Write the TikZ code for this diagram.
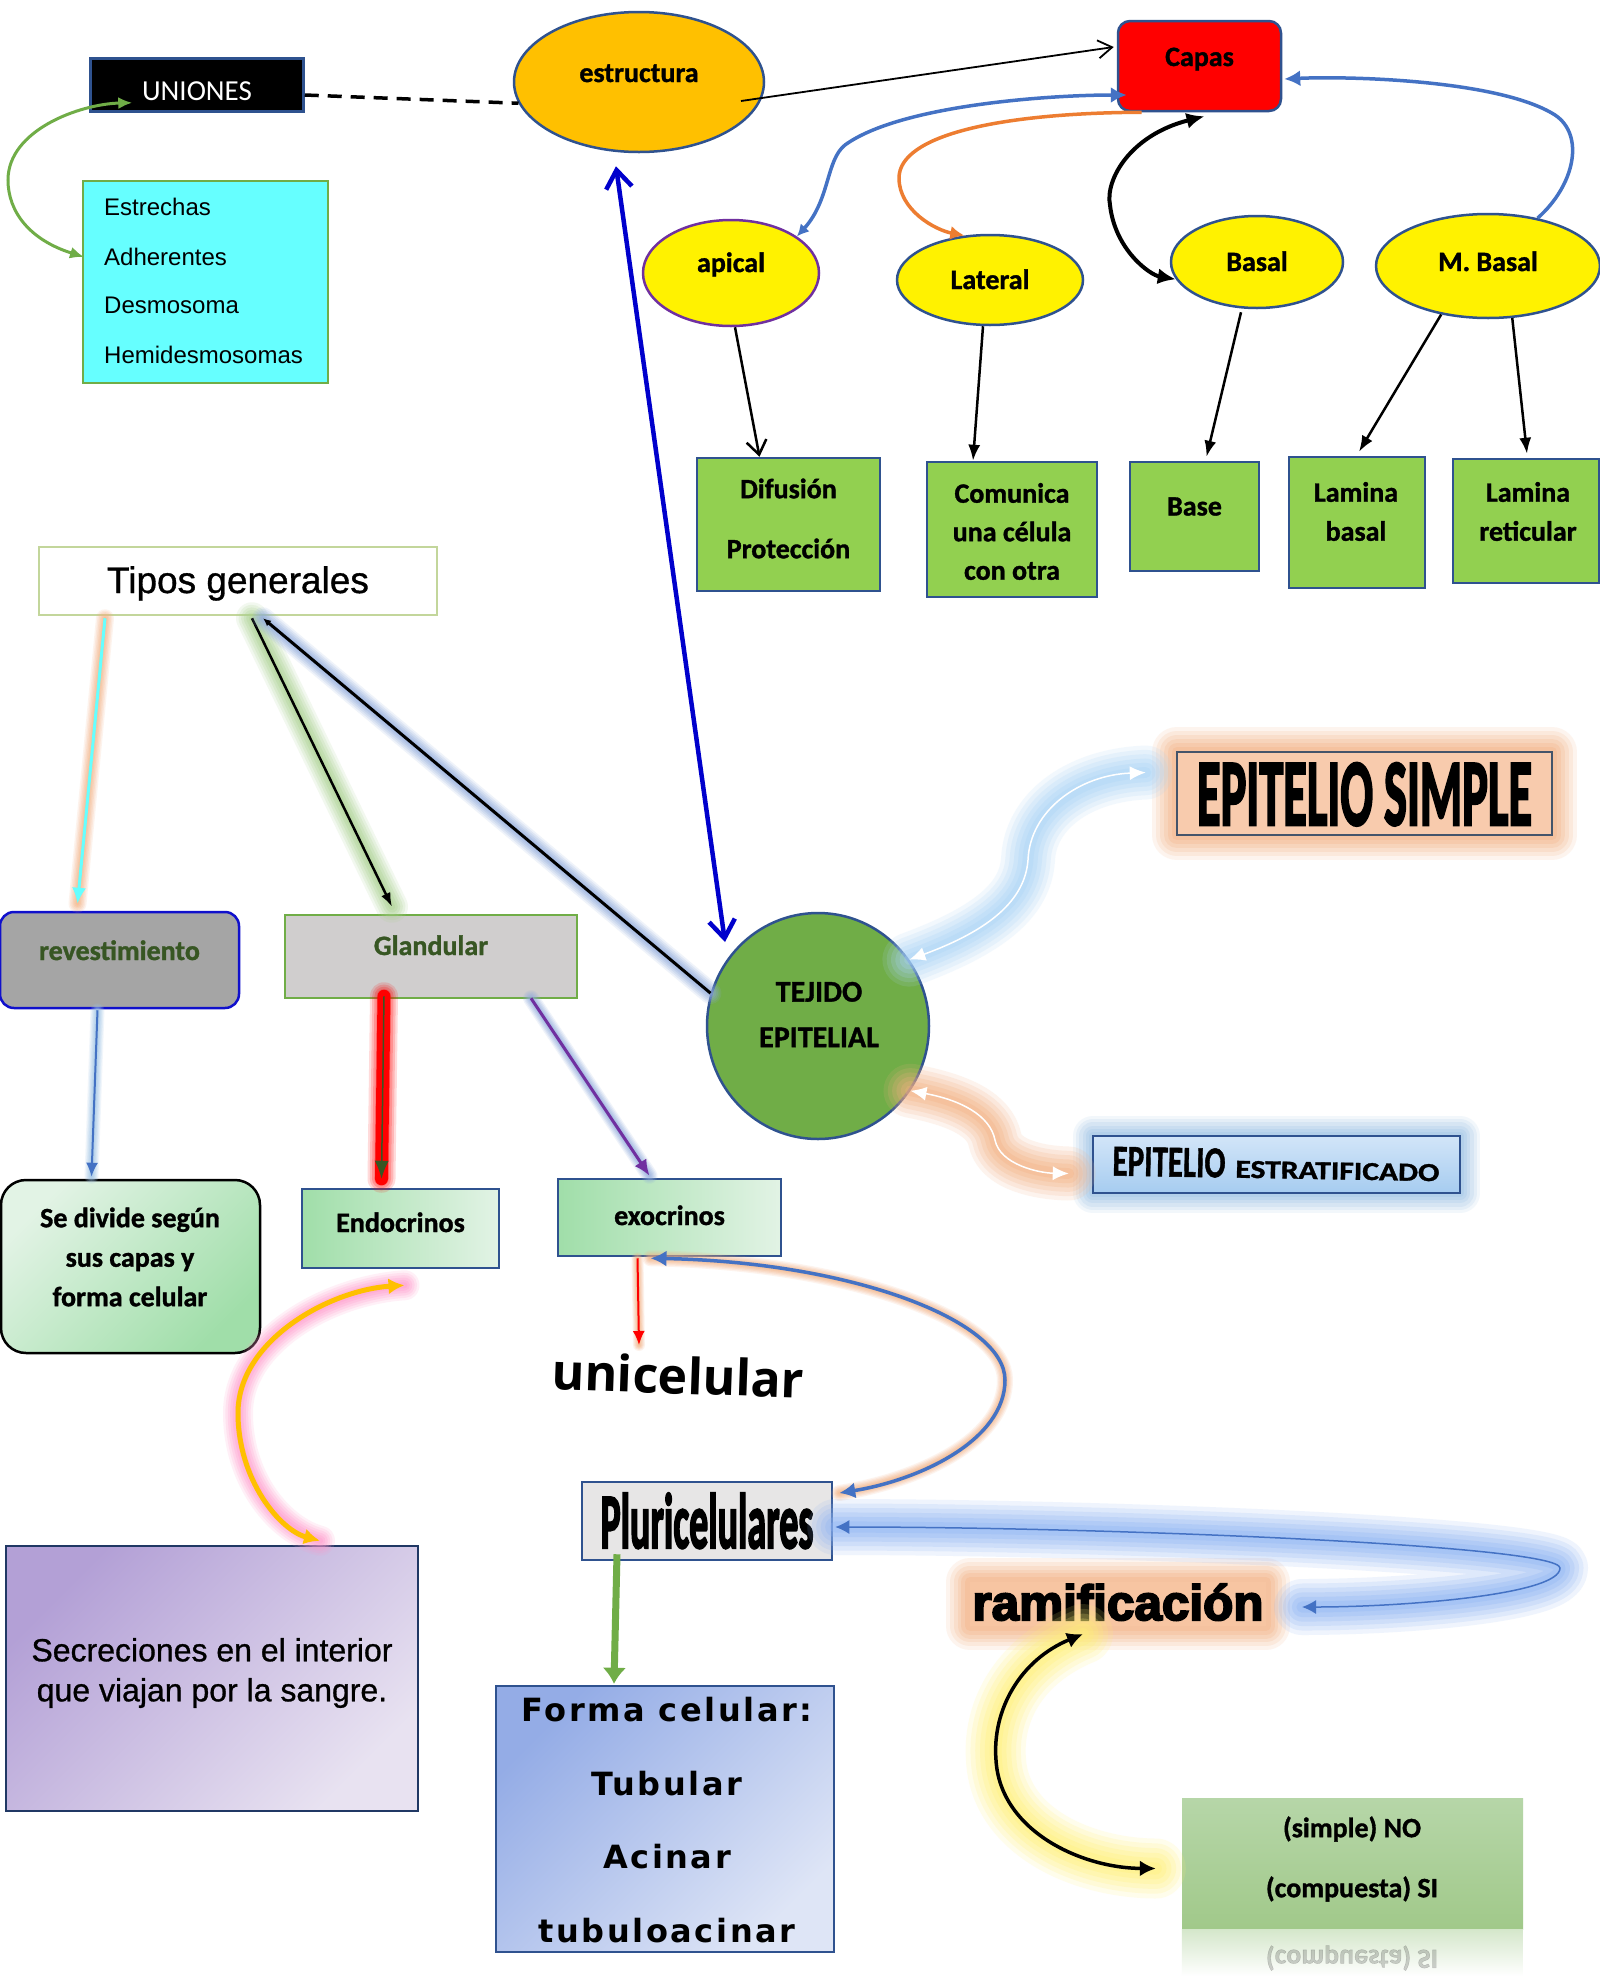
\documentclass[tikz,border=0pt]{standalone}
\usepackage{fontspec}
\usepackage{graphicx}
\usetikzlibrary{arrows.meta,shapes.geometric}
\newfontfamily\calfont{Carlito}[BoldFeatures={FakeBold=1.2}]
\newfontfamily\condfont{Carlito}[BoldFeatures={FakeBold=3}]
\newfontfamily\arialfont{Liberation Sans}
\newfontfamily\arialheavy{Liberation Sans}[FakeBold=0.9]
\newfontfamily\heavyfont{Liberation Sans}[BoldFeatures={FakeBold=4}]
\newfontfamily\verdfont{DejaVu Sans}[LetterSpace=8]
\newfontfamily\opfont{Open Sans}
\definecolor{bordb}{HTML}{2F528F}
\definecolor{cyanb}{HTML}{66FFFF}
\definecolor{grnb}{HTML}{70AD47}
\definecolor{orng}{HTML}{FFC000}
\definecolor{lgreen}{HTML}{92D050}
\definecolor{dkgreen}{HTML}{375623}
\definecolor{accblue}{HTML}{4472C4}
\definecolor{peach}{HTML}{F8CBAD}
\definecolor{orglow}{HTML}{F4B183}
\definecolor{ltblue}{HTML}{9DC3E6}
\definecolor{pblue}{HTML}{0000CC}
\definecolor{purp}{HTML}{7030A0}
\definecolor{orline}{HTML}{ED7D31}
\definecolor{greyfill}{HTML}{A5A5A5}
\definecolor{lgrey}{HTML}{D0CECE}
\definecolor{plgrey}{HTML}{E7E6E6}
\definecolor{tipbord}{HTML}{C3D69B}
\definecolor{gglow}{HTML}{A9D18E}
\definecolor{glblue}{HTML}{8FAADC}
\definecolor{bglow}{HTML}{8EB4F4}
\definecolor{esglow}{HTML}{A9D3F7}
\definecolor{pinkglow}{HTML}{FF99CC}
\definecolor{yglow}{HTML}{FFF176}
\definecolor{mint}{HTML}{A0DEA9}
\definecolor{mintl}{HTML}{E2F3E5}
\definecolor{lav}{HTML}{B3A0D6}
\definecolor{lavl}{HTML}{E8E2F1}
\definecolor{secbord}{HTML}{203864}
\definecolor{fbl}{HTML}{94ACE6}
\definecolor{fbll}{HTML}{DEE5F6}
\definecolor{sgt}{HTML}{B6D6A8}
\definecolor{sgb}{HTML}{A1C98A}
\definecolor{esbord}{HTML}{44546A}
\definecolor{estt}{HTML}{D2E5F8}
\definecolor{estb}{HTML}{A6CCF0}
\definecolor{revbord}{HTML}{1010CC}
\tikzset{
  gl/.style={line cap=round,line join=round,arrows=-},
  glow/.style 2 args={
    preaction={draw=#1,line width=#2,draw opacity=.14,gl},
    preaction={draw=#1,line width=.84*#2,draw opacity=.17,gl},
    preaction={draw=#1,line width=.68*#2,draw opacity=.2,gl},
    preaction={draw=#1,line width=.52*#2,draw opacity=.23,gl},
    preaction={draw=#1,line width=.36*#2,draw opacity=.27,gl},
    preaction={draw=#1,line width=.2*#2,draw opacity=.3,gl}},
  nglow/.style 2 args={
    preaction={draw=#1,line width=#2,draw opacity=.13,line join=round},
    preaction={draw=#1,line width=.84*#2,draw opacity=.16,line join=round},
    preaction={draw=#1,line width=.68*#2,draw opacity=.19,line join=round},
    preaction={draw=#1,line width=.52*#2,draw opacity=.22,line join=round},
    preaction={draw=#1,line width=.36*#2,draw opacity=.26,line join=round},
    preaction={draw=#1,line width=.2*#2,draw opacity=.3,line join=round}},
  cbf/.style={font=\calfont\bfseries\fontsize{28}{34}\selectfont},
  ell/.style={ellipse,draw=bordb,line width=2.5pt,fill=yellow,inner sep=0pt,cbf},
  gbox/.style={draw=bordb,line width=2.5pt,fill=lgreen,inner sep=0pt},
  txt/.style={inner sep=0pt,align=center},
  lst/.style={anchor=base west,inner sep=0pt,font=\arialfont\fontsize{24}{28}\selectfont},
}
\begin{document}
\begin{tikzpicture}[x=1pt,y=-1pt]
\useasboundingbox (0,0) rectangle (1599,1976);
\fill[white] (0,0) rectangle (1599,1976);

% ---------- top part ----------
\node[draw=bordb,line width=2.5pt,fill=black,minimum width=213pt,minimum height=53pt,inner sep=0pt,text=white,font=\calfont\fontsize{29}{34}\selectfont,text height=30pt,text depth=0pt] (uni) at (197,85) {UNIONES};
\node[draw=grnb,line width=2.5pt,fill=cyanb,minimum width=245pt,minimum height=202pt,inner sep=0pt] (unibox) at (205.5,282) {};
\node[lst] (l1) at (104,215) {Estrechas};
\node[lst] (l2) at (104,265) {Adherentes};
\node[lst] (l3) at (104,313) {Desmosoma};
\node[lst] (l4) at (104,363) {Hemidesmosomas};

\node[ellipse,draw=bordb,line width=2.5pt,fill=orng,minimum width=250pt,minimum height=140pt,inner sep=0pt,cbf,text height=20pt,text depth=20pt] (estr) at (639,82) {estructura};
\node[draw=bordb,line width=2.5pt,fill=red,rounded corners=12pt,minimum width=163pt,minimum height=90pt,inner sep=0pt,cbf,text height=20pt,text depth=20pt] (capas) at (1199.5,66) {Capas};

\node[ell,draw=purp,minimum width=176pt,minimum height=106pt,text height=20pt,text depth=22pt] (apical) at (731,273) {apical};
\node[ell,minimum width=186pt,minimum height=90pt,text height=28pt,text depth=10pt] (lateral) at (990,280) {Lateral};
\node[ell,minimum width=172pt,minimum height=92pt,text height=28pt,text depth=10pt] (basal) at (1257,262) {Basal};
\node[ell,minimum width=224pt,minimum height=104pt,text height=24pt,text depth=14pt] (mbasal) at (1488,266) {M. Basal};

\node[gbox,minimum width=183pt,minimum height=133pt] (difu) at (788.5,524.5) {};
\node[txt,font=\calfont\bfseries\fontsize{28}{60}\selectfont] (difut) at (788.5,518.5) {Difusión\\Protección};
\node[gbox,minimum width=170pt,minimum height=135pt] (com) at (1012,529.5) {};
\node[txt,font=\calfont\bfseries\fontsize{28}{38.5}\selectfont] (comt) at (1012,531.5) {Comunica\\una célula\\con otra};
\node[gbox,minimum width=129pt,minimum height=109pt,cbf,text height=20pt,text depth=22pt] (base) at (1194.5,516.5) {Base};
\node[gbox,minimum width=136pt,minimum height=131pt] (lb) at (1357,522.5) {};
\node[txt,font=\calfont\bfseries\fontsize{28}{39}\selectfont] (lbt) at (1356,511.5) {Lamina\\basal};
\node[gbox,minimum width=146pt,minimum height=124pt] (lr) at (1526,521) {};
\node[txt,font=\calfont\bfseries\fontsize{28}{39}\selectfont] (lrt) at (1528,511.5) {Lamina\\reticular};

% ---------- middle ----------
\node[draw=tipbord,line width=2.5pt,fill=white,minimum width=398pt,minimum height=68pt,inner sep=0pt,font=\arialheavy\fontsize{37}{44}\selectfont,text height=30pt,text depth=6pt] (tipos) at (238,581) {Tipos generales};
\node[draw=revbord,line width=2.5pt,fill=greyfill,rounded corners=14pt,minimum width=239pt,minimum height=96pt,inner sep=0pt,cbf,text=dkgreen,text height=20pt,text depth=20pt] (rev) at (119.5,960) {revestimiento};
\node[draw=grnb,line width=2.5pt,fill=lgrey,minimum width=292pt,minimum height=83pt,inner sep=0pt,cbf,text=dkgreen,text height=20pt,text depth=23pt] (gland) at (431,956.5) {Glandular};
\node[ellipse,draw=bordb,line width=2.5pt,fill=grnb,minimum width=222pt,minimum height=226pt,inner sep=0pt] (teji) at (818,1026) {};
\node[txt,font=\calfont\bfseries\fontsize{30}{45.5}\selectfont] (tejit) at (819,1014.5) {TEJIDO\\EPITELIAL};

\node[nglow={orglow}{50pt},draw=esbord,line width=2.5pt,fill=peach,minimum width=375pt,minimum height=83pt,inner sep=0pt,text height=63pt,text depth=0pt] (es) at (1364.5,793.5) {\resizebox{335pt}{62pt}{\condfont\bfseries EPITELIO SIMPLE}};
\node[nglow={ltblue}{40pt},draw=bordb,line width=2.5pt,top color=estt,bottom color=estb,minimum width=367pt,minimum height=57pt,inner sep=0pt] (est) at (1276.5,1164.5) {};
\node[inner sep=0pt,rotate=-1] (estt) at (1276,1164) {\resizebox{113pt}{29pt}{\calfont\bfseries EPITELIO}\hspace{10pt}\resizebox{204pt}{17pt}{\calfont\bfseries ESTRATIFICADO}};

% ---------- lower part ----------
\node[draw=black,line width=2.5pt,rounded corners=25pt,top color=mintl,bottom color=mint,shading angle=45,minimum width=259pt,minimum height=173pt,inner sep=0pt] (sediv) at (130.5,1266.5) {};
\node[txt,font=\calfont\bfseries\fontsize{28}{39.5}\selectfont] (sedivt) at (130,1257) {Se divide según\\sus capas y\\forma celular};
\node[draw=bordb,line width=2.5pt,left color=mint,right color=mintl,minimum width=197pt,minimum height=79pt,inner sep=0pt,cbf,text height=26pt,text depth=19pt] (endo) at (400.5,1228.5) {Endocrinos};
\node[draw=bordb,line width=2.5pt,left color=mint,right color=mintl,minimum width=223pt,minimum height=77pt,inner sep=0pt,cbf,text height=27pt,text depth=12pt] (exo) at (669.5,1217.5) {exocrinos};
\node[inner sep=0pt,rotate=-2,font=\opfont\bfseries\fontsize{50}{60}\selectfont] (unic) at (678,1375) {unicelular};
\node[draw=bordb,line width=2.5pt,fill=plgrey,minimum width=250pt,minimum height=78pt,inner sep=0pt,text height=55pt,text depth=1pt] (pluri) at (707,1521) {\resizebox{213pt}{55pt}{\condfont\bfseries Pluricelulares}};

\node[draw=secbord,line width=2.5pt,top color=lav,bottom color=lavl,shading angle=45,minimum width=412pt,minimum height=265pt,inner sep=0pt] (sec) at (212,1678.5) {};
\node[txt,font=\arialheavy\fontsize{32}{40}\selectfont] (sect) at (212,1673) {Secreciones en el interior\\que viajan por la sangre.};

\node[draw=bordb,line width=2.5pt,top color=fbl,bottom color=fbll,shading angle=45,minimum width=338pt,minimum height=266pt,inner sep=0pt] (forma) at (665,1819) {};
\node[txt,font=\verdfont\bfseries\fontsize{32}{73.7}\selectfont] (format) at (667,1820) {Forma celular:\\Tubular\\Acinar\\tubuloacinar};

\node[nglow={orglow}{48pt},fill=orglow!75!white,minimum width=296pt,minimum height=44pt,inner sep=0pt,text height=34pt,text depth=2pt] (ram) at (1118,1604) {\resizebox{291pt}{!}{\heavyfont\bfseries ramificación}};

\node[top color=sgt,bottom color=sgb,minimum width=341pt,minimum height=131pt,inner sep=0pt] (simple) at (1352.5,1863.5) {};
\fill[top color=sgb!45!white,bottom color=white] (simple.south west) rectangle ++(341,47);
\node[txt,font=\calfont\bfseries\fontsize{28}{60}\selectfont] (simplet) at (1352,1859) {(simple) NO\\(compuesta) SI};
\node[inner sep=0pt,opacity=.18,font=\calfont\bfseries\fontsize{28}{34}\selectfont] (refl) at (1352,1958) {\scalebox{1}[-1]{(compuesta) SI}};

% ---------- connectors ----------
\draw[grnb,line width=3pt,{Latex[length=14pt,width=12pt]}-{Latex[length=14pt,width=12pt]}] ([shift={(-20,-8)}]l2.base west) .. controls (30,240) and (8,212) .. (8,180) .. controls (8,130) and (80,104) .. ([shift={(43,-10)}]uni.south west);
\draw[line width=3.5pt,dash pattern=on 14pt off 9pt] ([shift={(0,10)}]uni.east) -- (estr.190);
\draw[line width=1.8pt,-{Straight Barb[length=14pt,width=18pt]}] ([shift={(102,19)}]estr.center) -- ([shift={(-3,-19)}]capas.west);
\draw[accblue,line width=3.5pt,{Latex[length=12pt,width=12pt]}-{Latex[length=16pt,width=16pt]}] (apical.29) .. controls (830,200) and (826,160) .. (845,145) .. controls (900,105) and (1050,95) .. ([shift={(10,29)}]capas.west);
\draw[orline,line width=3.5pt,-{Latex[length=14pt,width=14pt]}] ([shift={(-58,0)}]capas.south) .. controls (1000,113) and (899,135) .. (899,178) .. controls (899,210) and (935,230) .. (lateral.120);
\draw[line width=4pt,{Latex[length=18pt,width=16pt]}-{Latex[length=18pt,width=16pt]}] ([shift={(5,4)}]capas.south) .. controls (1130,135) and (1105,180) .. (1110,205) .. controls (1115,250) and (1150,275) .. (basal.192);
\draw[accblue,line width=3.5pt,-{Latex[length=16pt,width=16pt]}] (mbasal.44) .. controls (1575,185) and (1585,135) .. (1555,115) .. controls (1500,80) and (1350,76) .. ([shift={(2,13)}]capas.east);

\draw[line width=2.5pt,-{Straight Barb[length=14pt,width=20pt]}] ([shift={(4,0)}]apical.south) -- ([shift={(-29,0)}]difu.north);
\draw[line width=2.5pt,-{Latex[length=16pt,width=12pt]}] ([shift={(-7,0)}]lateral.south) -- ([shift={(-39,0)}]com.north);
\draw[line width=2.5pt,-{Latex[length=16pt,width=12pt]}] ([shift={(-16,3)}]basal.south) -- ([shift={(12,-4)}]base.north);
\draw[line width=2.5pt,-{Latex[length=16pt,width=12pt]}] (mbasal.226) -- ([shift={(2,-4)}]lb.north);
\draw[line width=2.5pt,-{Latex[length=16pt,width=12pt]}] (mbasal.295) -- ([shift={(1,-4)}]lr.north);

\draw[pblue,line width=4.5pt,{Straight Barb[length=18pt,width=26pt]}-{Straight Barb[length=18pt,width=26pt]}] ([shift={(-23,13)}]estr.south) -- ([shift={(-93,-84)}]teji.center);

\draw[cyanb,line width=3pt,glow={orglow}{18pt},-{Latex[length=16pt,width=14pt]}] ([shift={(-133,2)}]tipos.south) -- ([shift={(-42,-7)}]rev.north);
\draw[line width=2.5pt,glow={gglow}{32pt},-{Latex[length=14pt,width=10pt]}] ([shift={(14,2)}]tipos.south) -- ([shift={(-39,-7)}]gland.north);
\draw[line width=3pt,glow={glblue}{22pt},{Latex[length=8pt,width=7pt]}-] ([shift={(25,2)}]tipos.south) -- (teji.163);

\draw[accblue,line width=2pt,glow={ltblue}{14pt},-{Latex[length=14pt,width=12pt]}] ([shift={(-22,1)}]rev.south) -- ([shift={(-39,-2)}]sediv.north);
\draw[dkgreen,line width=1.5pt,glow={red}{28pt},preaction={draw=red,line width=13pt,line cap=round,arrows=-},-{Latex[length=18pt,width=14pt]}] ([shift={(-47,-3)}]gland.south) -- ([shift={(-19,-9)}]endo.north);
\draw[purp,line width=3pt,glow={glblue}{16pt},-{Latex[length=16pt,width=14pt]}] ([shift={(100,-1)}]gland.south) -- ([shift={(-20,-2)}]exo.north);
\draw[red,line width=2pt,glow={orglow}{12pt},-{Latex[length=14pt,width=12pt]}] ([shift={(-32,1)}]exo.south) -- ([shift={(-39,-30)}]unic.center);
\draw[accblue,line width=3.5pt,glow={orglow}{16pt},{Latex[length=16pt,width=16pt]}-{Latex[length=16pt,width=16pt]}] ([shift={(-19,1)}]exo.south) .. controls (850,1262) and (1005,1320) .. (1005,1380) .. controls (1005,1440) and (920,1480) .. ([shift={(6,-28)}]pluri.east);
\draw[accblue,line width=1.5pt,glow={bglow}{56pt},{Latex[length=14pt,width=14pt]}-{Latex[length=14pt,width=14pt]}] ([shift={(2,6)}]pluri.east) .. controls (1100,1527) and (1560,1545) .. (1560,1568) .. controls (1560,1595) and (1400,1607) .. ([shift={(184,3)}]ram.center);
\draw[line width=3.5pt,glow={yglow}{60pt},{Latex[length=16pt,width=16pt]}-{Latex[length=16pt,width=16pt]}] ([shift={(-35,30)}]ram.center) .. controls (1020,1660) and (992,1710) .. (996,1760) .. controls (1000,1830) and (1080,1868) .. ([shift={(-26,5)}]simple.west);
\draw[orng,line width=5pt,glow={pinkglow}{30pt},{Latex[length=16pt,width=16pt]}-{Latex[length=16pt,width=16pt]}] ([shift={(4,16)}]endo.south) .. controls (330,1290) and (238,1340) .. (238,1413) .. controls (238,1480) and (280,1530) .. ([shift={(108,-4)}]sec.north);
\draw[white,line width=1.5pt,glow={esglow}{54pt},{Latex[length=16pt,width=14pt]}-{Latex[length=16pt,width=14pt]}] (teji.36) .. controls (990,930) and (1025,900) .. (1028,860) .. controls (1030,810) and (1080,775) .. ([shift={(-30,-21)}]es.west);
\draw[white,line width=1.5pt,glow={orglow}{54pt},{Latex[length=16pt,width=14pt]}-{Latex[length=16pt,width=14pt]}] (teji.325) .. controls (960,1100) and (990,1115) .. (995,1140) .. controls (1000,1165) and (1040,1173) .. ([shift={(-23,9)}]est.west);
\draw[grnb,line width=7pt,-{Latex[length=16pt,width=24pt]}] ([shift={(-90,-7)}]pluri.south) -- ([shift={(-51,-1)}]forma.north);
\end{tikzpicture}
\end{document}
